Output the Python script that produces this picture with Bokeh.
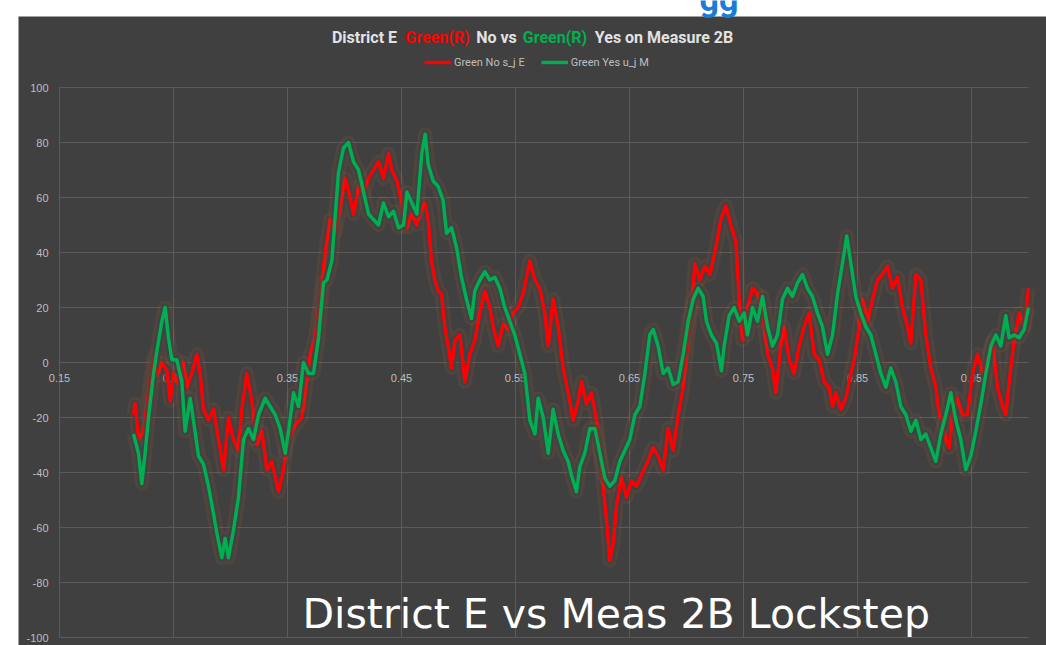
from bokeh.plotting import figure
from bokeh.models import Range1d, Legend, LegendItem, BoxAnnotation
from bokeh.embed import file_html
from bokeh.resources import INLINE
from bokeh.core.properties import value

# ---------------- data ----------------
red_x = [0.2149, 0.2164, 0.2193, 0.2237, 0.2281, 0.2325, 0.2354, 0.2398, 0.2442, 0.2471,
         0.2500, 0.2544, 0.2588, 0.2617, 0.2661, 0.2705, 0.2734, 0.2763, 0.2807, 0.2851,
         0.2895, 0.2939, 0.2982, 0.3026, 0.3070, 0.3099, 0.3143, 0.3187, 0.3231, 0.3275,
         0.3319, 0.3363, 0.3421, 0.3465, 0.3494, 0.3538, 0.3582, 0.3626, 0.3655, 0.3699,
         0.3743, 0.3787, 0.3830, 0.3874, 0.3918, 0.3962, 0.4006, 0.4050, 0.4079, 0.4123,
         0.4167, 0.4211, 0.4254, 0.4298, 0.4342, 0.4386, 0.4415, 0.4459, 0.4503, 0.4547,
         0.4591, 0.4635, 0.4678, 0.4705, 0.4734, 0.4763, 0.4792, 0.4822, 0.4851, 0.4880,
         0.4909, 0.4939, 0.4968, 0.5012, 0.5056, 0.5099, 0.5143, 0.5187, 0.5231, 0.5275,
         0.5304, 0.5348, 0.5392, 0.5436, 0.5480, 0.5523, 0.5567, 0.5626, 0.5670, 0.5713,
         0.5757, 0.5787, 0.5830, 0.5874, 0.5918, 0.5962, 0.6006, 0.6050, 0.6079, 0.6123,
         0.6167, 0.6211, 0.6254, 0.6298, 0.6327, 0.6357, 0.6386, 0.6430, 0.6474, 0.6518,
         0.6561, 0.6605, 0.6649, 0.6708, 0.6751, 0.6795, 0.6839, 0.6883, 0.6927, 0.6971,
         0.7000, 0.7044, 0.7073, 0.7117, 0.7161, 0.7205, 0.7249, 0.7301, 0.7345, 0.7389,
         0.7433, 0.7462, 0.7491, 0.7535, 0.7579, 0.7623, 0.7667, 0.7711, 0.7754, 0.7784,
         0.7827, 0.7857, 0.7901, 0.7944, 0.7988, 0.8032, 0.8076, 0.8120, 0.8164, 0.8208,
         0.8251, 0.8281, 0.8310, 0.8354, 0.8398, 0.8442, 0.8471, 0.8515, 0.8544, 0.8588,
         0.8632, 0.8675, 0.8719, 0.8763, 0.8807, 0.8851, 0.8895, 0.8939, 0.8968, 0.9012,
         0.9056, 0.9099, 0.9143, 0.9187, 0.9216, 0.9246, 0.9275, 0.9304, 0.9333, 0.9377,
         0.9421, 0.9465, 0.9509, 0.9553, 0.9597, 0.9640, 0.9684, 0.9728, 0.9772, 0.9801,
         0.9830, 0.9874, 0.9918, 0.9962, 1.0000]
red_y = [-19, -15, -28, -25, -11, 2, -5, 0, -3, -14,
         -4, -8, 0, -9, -4, 3, -4, -17, -21, -17,
         -28, -39, -20, -28, -32, -17, -4, -14, -30, -25,
         -39, -36, -47, -39, -30, -25, -22, -20, -11, 3,
         9, 24, 40, 52, 47, 56, 67, 60, 54, 64,
         61, 67, 70, 73, 67, 76, 70, 66, 58, 49,
         54, 50, 56, 58, 52, 37, 30, 26, 25, 13,
         6, -2, 8, 10, -7, 3, 8, 18, 26, 20,
         13, 6, 14, 12, 18, 20, 25, 37, 30, 27,
         18, 6, 23, 13, -2, -11, -21, -14, -7, -15,
         -11, -21, -39, -57, -72, -66, -52, -42, -49, -43,
         -45, -41, -37, -31, -34, -39, -24, -32, -19, -9,
         3, 20, 36, 30, 35, 32, 40, 52, 57, 50,
         44, 23, 8, 20, 27, 25, 18, 3, -2, -11,
         6, 13, 1, -4, 6, 13, 18, 3, 1, -7,
         -9, -16, -11, -17, -13, -4, 1, 13, 23, 15,
         23, 30, 32, 35, 27, 31, 20, 13, 7, 32,
         30, 10, -2, -9, -19, -21, -28, -31, -19, -13,
         -19, -19, -4, 3, -4, 1, 8, -9, -16, -19,
         -7, 8, 18, 13, 27]

green_x = [0.2149, 0.2193, 0.2222, 0.2251, 0.2281, 0.2325, 0.2354, 0.2398, 0.2427, 0.2456,
           0.2485, 0.2529, 0.2573, 0.2602, 0.2646, 0.2675, 0.2719, 0.2763, 0.2807, 0.2851,
           0.2880, 0.2924, 0.2953, 0.2982, 0.3026, 0.3070, 0.3114, 0.3158, 0.3202, 0.3246,
           0.3304, 0.3348, 0.3392, 0.3436, 0.3480, 0.3509, 0.3553, 0.3597, 0.3640, 0.3684,
           0.3728, 0.3772, 0.3816, 0.3845, 0.3889, 0.3918, 0.3947, 0.3991, 0.4035, 0.4079,
           0.4123, 0.4167, 0.4211, 0.4254, 0.4298, 0.4342, 0.4386, 0.4430, 0.4474, 0.4518,
           0.4547, 0.4591, 0.4635, 0.4678, 0.4708, 0.4734, 0.4778, 0.4822, 0.4865, 0.4895,
           0.4939, 0.4982, 0.5026, 0.5070, 0.5114, 0.5143, 0.5187, 0.5231, 0.5275, 0.5319,
           0.5363, 0.5406, 0.5450, 0.5494, 0.5538, 0.5582, 0.5626, 0.5670, 0.5699, 0.5743,
           0.5787, 0.5830, 0.5874, 0.5918, 0.5962, 0.5991, 0.6035, 0.6064, 0.6108, 0.6152,
           0.6196, 0.6240, 0.6284, 0.6327, 0.6371, 0.6415, 0.6459, 0.6503, 0.6547, 0.6591,
           0.6635, 0.6678, 0.6708, 0.6751, 0.6795, 0.6839, 0.6883, 0.6927, 0.6971, 0.7015,
           0.7059, 0.7102, 0.7146, 0.7175, 0.7219, 0.7263, 0.7307, 0.7330, 0.7374, 0.7418,
           0.7462, 0.7506, 0.7535, 0.7579, 0.7623, 0.7667, 0.7711, 0.7754, 0.7798, 0.7842,
           0.7886, 0.7930, 0.7974, 0.8018, 0.8061, 0.8105, 0.8149, 0.8193, 0.8237, 0.8281,
           0.8325, 0.8368, 0.8406, 0.8442, 0.8485, 0.8529, 0.8573, 0.8617, 0.8661, 0.8705,
           0.8749, 0.8792, 0.8836, 0.8880, 0.8924, 0.8968, 0.9012, 0.9056, 0.9099, 0.9143,
           0.9187, 0.9231, 0.9275, 0.9319, 0.9363, 0.9406, 0.9450, 0.9494, 0.9538, 0.9582,
           0.9626, 0.9670, 0.9713, 0.9757, 0.9801, 0.9830, 0.9874, 0.9918, 0.9962, 1.0000]
green_y = [-26, -33, -44, -33, -20, -4, 4, 15, 20, 9,
           1, 1, -7, -25, -13, -21, -34, -37, -45, -55,
           -62, -71, -64, -71, -61, -49, -28, -24, -28, -19,
           -13, -16, -19, -24, -33, -25, -11, -16, 0, -4,
           -4, 9, 29, 30, 37, 53, 69, 78, 80, 73,
           70, 62, 54, 52, 50, 58, 53, 55, 49, 50,
           62, 58, 54, 76, 83, 72, 66, 64, 59, 47,
           49, 42, 31, 23, 16, 26, 30, 33, 30, 31,
           27, 20, 15, 10, 3, -4, -21, -26, -13, -20,
           -33, -17, -26, -32, -36, -41, -47, -38, -33, -24,
           -24, -33, -42, -45, -43, -36, -32, -28, -19, -16,
           -4, 10, 12, 6, -4, -2, -8, -7, 3, 15,
           23, 27, 24, 15, 10, 7, -3, 6, 17, 20,
           15, 18, 10, 20, 15, 24, 13, 6, 10, 23,
           27, 24, 29, 32, 27, 24, 18, 13, 3, 10,
           25, 36, 46, 36, 24, 18, 13, 10, 3, -4,
           -9, -2, -7, -16, -19, -25, -21, -28, -26, -31,
           -36, -26, -19, -11, -21, -28, -39, -34, -25, -15,
           -4, 6, 10, 6, 17, 9, 10, 9, 12, 20]

x_ticks = [0.15, 0.25, 0.35, 0.45, 0.55, 0.65, 0.75, 0.85, 0.95]
x_tick_labels = ["0.15", "0.25", "0.35", "0.45", "0.55", "0.65", "0.75", "0.85", "0.95"]
y_ticks = [-100, -80, -60, -40, -20, 0, 20, 40, 60, 80, 100]
y_tick_labels = ["-100", "-80", "-60", "-40", "-20", "0", "20", "40", "60", "80", "100"]
x_min, x_max = 0.15, 1.0      # plot-area extent of the value axes
y_min, y_max = -100, 100

series_names = ["Green No s_j E", "Green Yes u_j M"]
series_colors = ["#FF0000", "#00B050"]
title_parts = ["District E", "Green(R)", "No vs", "Green(R)", "Yes on Measure 2B"]
title_colors = ["#E2E2E2", "#FF0000", "#E2E2E2", "#00B050", "#E2E2E2"]
caption = "District E vs Meas 2B Lockstep"
top_fragment = "gg"   # cut-off blue text at the very top of the screenshot

# ---------------- geometry (pixels of the reference picture) ----------------
BG = "#404040"
GRID = "#5B5B5B"
TXT = "#BFBFBF"
W, H = 1046, 645                  # figure size
PANEL_L, PANEL_T, PANEL_R, PANEL_B = 18, 16, 1046, 645   # dark chart panel
AX_X0_PX, AX_Y0_PX = 59, 362      # pixel of (x=0.15, y=0)
PX_PER_X, PX_PER_Y = 1140.0, 2.75

def px2x(px):
    return x_min + (px - AX_X0_PX) / PX_PER_X

def py2y(py):
    return (AX_Y0_PX - py) / PX_PER_Y

p = figure(width=W, height=H, output_backend="svg", toolbar_location=None,
           x_range=Range1d(px2x(0), px2x(W)),
           y_range=Range1d(py2y(H), py2y(0)),
           x_axis_location=None, y_axis_location=None, title=None,
           min_border=0, min_border_left=0, min_border_right=0,
           min_border_top=0, min_border_bottom=0)
p.background_fill_color = "#FFFFFF"
p.border_fill_color = "#FFFFFF"
p.outline_line_color = None
p.xgrid.visible = False
p.ygrid.visible = False

# dark chart panel
p.add_layout(BoxAnnotation(left=px2x(PANEL_L), right=px2x(PANEL_R),
                           top=py2y(PANEL_T), bottom=py2y(PANEL_B),
                           fill_color=BG, fill_alpha=1.0, line_color=None,
                           level="underlay"))

# cut-off blue text above the chart panel
p.text(x=[px2x(699)], y=[py2y(-2)], text=[top_fragment], text_color="#1C7CD5",
       text_font=value("Roboto"), text_font_style="bold", text_font_size="34px",
       text_align="left", text_baseline="alphabetic")

# gridlines of the value axes (axes cross at y = 0)
p.segment(x0=x_ticks, x1=x_ticks, y0=[y_min] * len(x_ticks), y1=[y_max] * len(x_ticks),
          line_color=GRID, line_width=1)
p.segment(x0=[x_min] * len(y_ticks), x1=[x_max] * len(y_ticks), y0=y_ticks, y1=y_ticks,
          line_color=GRID, line_width=1)

# tick labels
p.text(x=[x_min] * len(y_ticks), y=y_ticks, text=y_tick_labels,
       text_font=value("Liberation Sans"), text_font_size="11px", text_color=TXT,
       text_align="right", text_baseline="middle", x_offset=-11)
p.text(x=x_ticks, y=[0] * len(x_ticks), text=x_tick_labels,
       text_font=value("Liberation Sans"), text_font_size="11px",
       text_color=TXT, text_align="center", text_baseline="middle", y_offset=15)

renderers = []
for xs, ys, col in [(red_x, red_y, series_colors[0]), (green_x, green_y, series_colors[1])]:
    p.line(xs, ys, line_width=14, line_color="#C0642A", line_alpha=0.13, line_join="round")
    p.line(xs, ys, line_width=8, line_color="#33434D", line_alpha=0.6, line_join="round")
    r = p.line(xs, ys, line_width=3.4, line_color=col, line_join="round")
    renderers.append(r)

legend = Legend(items=[LegendItem(label=series_names[0], renderers=[renderers[0]]),
                       LegendItem(label=series_names[1], renderers=[renderers[1]])],
                orientation="horizontal", location=(424, H - 72),
                padding=0, margin=0, spacing=16, label_standoff=3,
                glyph_width=27, glyph_height=20, label_height=20,
                label_text_font="Roboto", label_text_font_size="11px",
                label_text_color=TXT, background_fill_alpha=0, border_line_alpha=0)
p.add_layout(legend, "center")

# title in several colours (each piece centred where it sits in the reference)
title_center_px = [364, 437, 496, 554.5, 663.5]
p.text(x=[px2x(v) for v in title_center_px], y=[py2y(37)] * len(title_parts),
       text=title_parts, text_color=title_colors,
       text_font=value("Roboto"), text_font_style="bold",
       text_font_size="16px", text_align="center", text_baseline="alphabetic")

p.text(x=[px2x(302)], y=[py2y(613)], text=[caption], text_color="#FFFFFF",
       text_font=value("DejaVu Sans"), text_font_size="41px",
       text_align="left", text_baseline="alphabetic")

open("out.html", "w").write(file_html(p, INLINE))
